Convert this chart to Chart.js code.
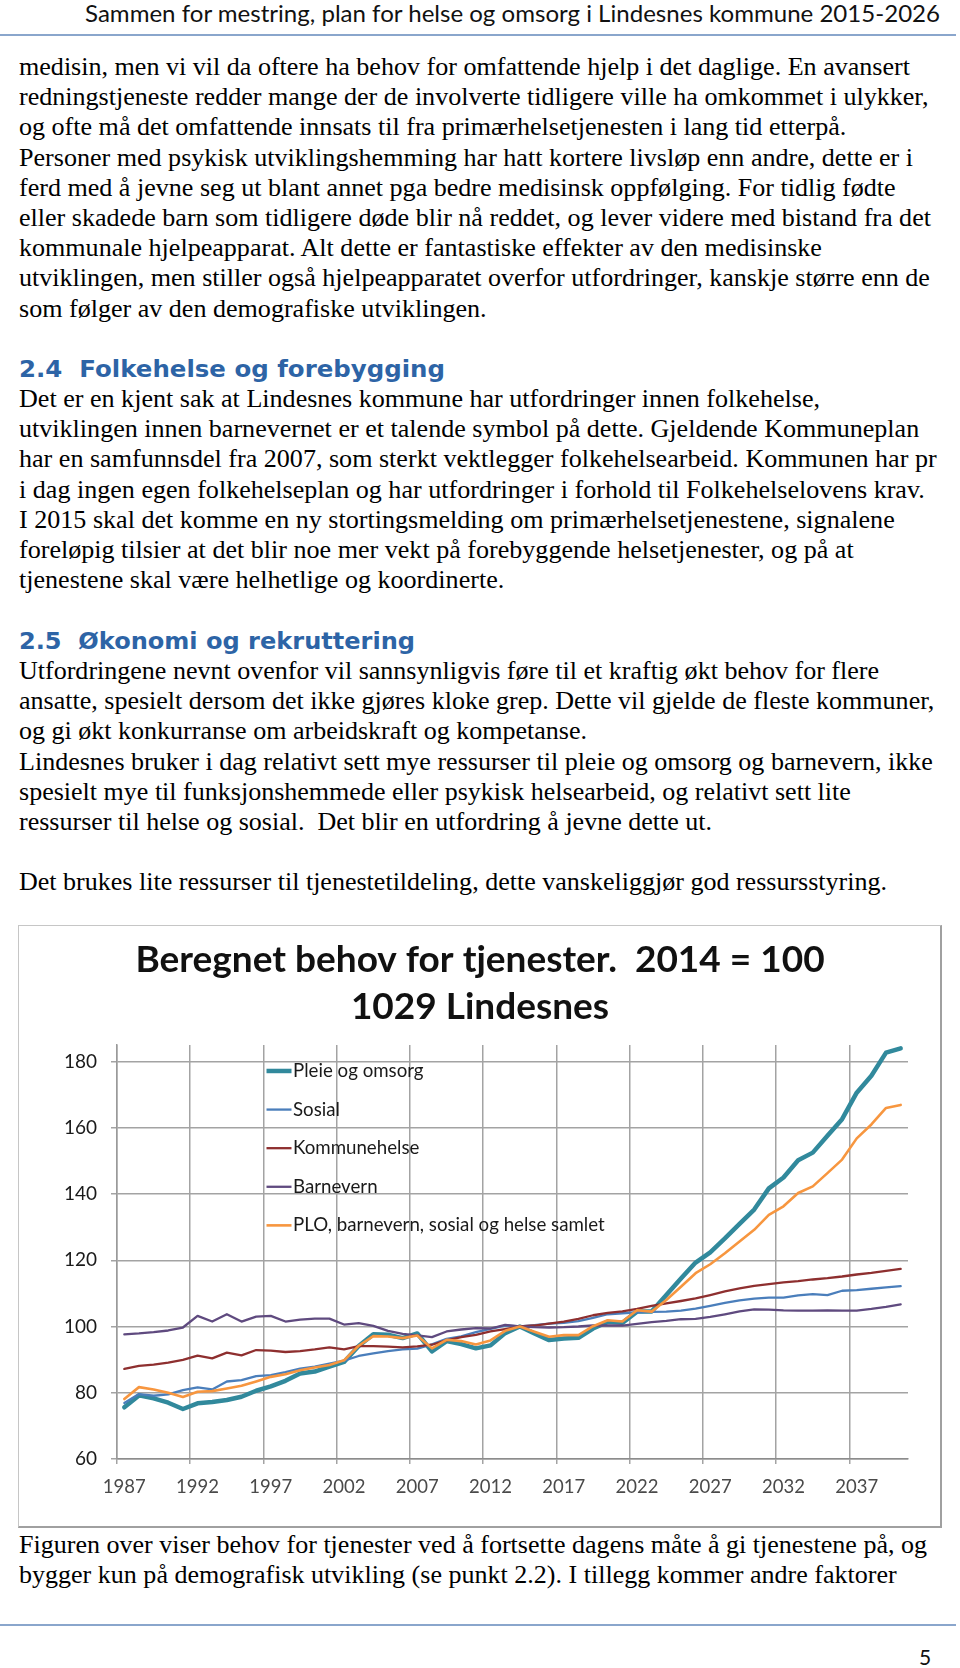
<!DOCTYPE html>
<html><head><meta charset="utf-8">
<script src="https://cdn.jsdelivr.net/npm/chart.js@4.4.1/dist/chart.umd.min.js"></script>
<style>
html,body{margin:0;padding:0;background:#fff;}
body{width:960px;height:1668px;position:relative;overflow:hidden;}
.abs{position:absolute;white-space:nowrap;transform-origin:0 0;}
.hdr{font-family:Lato;font-size:23px;line-height:26px;color:#111;left:85px;top:0px;}
.rule{position:absolute;left:0;width:956px;height:2px;background:#8aa6cc;}
.txt{font-family:'Liberation Serif';font-size:26px;line-height:30.2px;color:#000;left:19px;}
.h2{font-family:'DejaVu Sans';font-weight:bold;font-size:23px;line-height:30px;color:#2d64a6;left:19px;white-space:pre;}
#box{position:absolute;left:18px;top:925px;width:924px;height:603px;box-sizing:border-box;border:1px solid #c6c6c6;border-right:2px solid #a0a0a0;border-bottom:2px solid #a0a0a0;}
#wrap{position:absolute;left:19px;top:926px;width:922px;height:601px;}
.pg{font-family:Lato;font-size:21px;left:919px;top:1644px;color:#111;}
</style>
</head><body>
<div class="abs hdr" data-w="856">Sammen for mestring, plan for helse og omsorg i Lindesnes kommune 2015-2026</div>
<div class="rule" style="top:34px"></div>

<div class="abs txt" style="top:52px" data-w="891" data-t="medisin, men vi vil da oftere ha behov for omfattende hjelp i det daglige. En avansert">medisin, men vi vil da oftere ha behov for omfattende hjelp i det daglige. En avansert<br>redningstjeneste redder mange der de involverte tidligere ville ha omkommet i ulykker,<br>og ofte må det omfattende innsats til fra primærhelsetjenesten i lang tid etterpå.<br>Personer med psykisk utviklingshemming har hatt kortere livsløp enn andre, dette er i<br>ferd med å jevne seg ut blant annet pga bedre medisinsk oppfølging. For tidlig fødte<br>eller skadede barn som tidligere døde blir nå reddet, og lever videre med bistand fra det<br>kommunale hjelpeapparat. Alt dette er fantastiske effekter av den medisinske<br>utviklingen, men stiller også hjelpeapparatet overfor utfordringer, kanskje større enn de<br>som følger av den demografiske utviklingen.</div>

<div class="abs h2" style="top:354px" data-w="426">2.4  Folkehelse og forebygging</div>

<div class="abs txt" style="top:384px" data-w="801" data-t="Det er en kjent sak at Lindesnes kommune har utfordringer innen folkehelse,">Det er en kjent sak at Lindesnes kommune har utfordringer innen folkehelse,<br>utviklingen innen barnevernet er et talende symbol på dette. Gjeldende Kommuneplan<br>har en samfunnsdel fra 2007, som sterkt vektlegger folkehelsearbeid. Kommunen har pr<br>i dag ingen egen folkehelseplan og har utfordringer i forhold til Folkehelselovens krav.<br>I 2015 skal det komme en ny stortingsmelding om primærhelsetjenestene, signalene<br>foreløpig tilsier at det blir noe mer vekt på forebyggende helsetjenester, og på at<br>tjenestene skal være helhetlige og koordinerte.</div>

<div class="abs h2" style="top:626px" data-w="396">2.5  Økonomi og rekruttering</div>

<div class="abs txt" style="top:656px" data-w="860" data-t="Utfordringene nevnt ovenfor vil sannsynligvis føre til et kraftig økt behov for flere">Utfordringene nevnt ovenfor vil sannsynligvis føre til et kraftig økt behov for flere<br>ansatte, spesielt dersom det ikke gjøres kloke grep. Dette vil gjelde de fleste kommuner,<br>og gi økt konkurranse om arbeidskraft og kompetanse.<br>Lindesnes bruker i dag relativt sett mye ressurser til pleie og omsorg og barnevern, ikke<br>spesielt mye til funksjonshemmede eller psykisk helsearbeid, og relativt sett lite<br>ressurser til helse og sosial.&nbsp; Det blir en utfordring å jevne dette ut.<br><br>Det brukes lite ressurser til tjenestetildeling, dette vanskeliggjør god ressursstyring.</div>

<div id="box"></div>
<div id="wrap"><canvas id="c"></canvas></div>

<div class="abs txt" style="top:1530px" data-w="908" data-t="Figuren over viser behov for tjenester ved å fortsette dagens måte å gi tjenestene på, og">Figuren over viser behov for tjenester ved å fortsette dagens måte å gi tjenestene på, og<br>bygger kun på demografisk utvikling (se punkt 2.2). I tillegg kommer andre faktorer</div>

<div class="rule" style="top:1624px"></div>
<div class="abs pg">5</div>

<script>
// ---- data ----
const years = [1987,1988,1989,1990,1991,1992,1993,1994,1995,1996,1997,1998,1999,2000,2001,2002,2003,2004,2005,2006,2007,2008,2009,2010,2011,2012,2013,2014,2015,2016,2017,2018,2019,2020,2021,2022,2023,2024,2025,2026,2027,2028,2029,2030,2031,2032,2033,2034,2035,2036,2037,2038,2039,2040];
const seriesNames = ['Pleie og omsorg','Sosial','Kommunehelse','Barnevern','PLO, barnevern, sosial og helse samlet'];
const pleieOgOmsorg = [75.6,79.2,78.3,77.0,75.1,76.8,77.2,77.8,78.8,80.6,81.9,83.6,85.8,86.4,87.9,89.3,94.1,97.7,97.5,96.5,97.9,92.5,95.6,94.7,93.4,94.3,98.0,100,97.9,95.9,96.4,96.6,99.4,101.4,101.1,104.5,104.5,109.5,114.5,119.3,122.4,126.6,131.0,135.3,141.7,145.0,150.2,152.5,157.6,162.6,170.6,175.7,182.7,184.0];
const sosial = [76.9,79.6,79.1,79.5,80.8,81.6,81.0,83.4,83.8,85.0,85.3,86.2,87.3,87.9,88.8,89.7,91.1,91.9,92.6,93.1,93.3,94.6,96.3,97.0,98.3,99.3,100.3,100,100.4,100.9,101.1,101.6,102.6,103.7,104.0,104.3,104.4,104.5,104.8,105.4,106.2,107.1,107.9,108.4,108.7,108.7,109.4,109.8,109.5,110.8,111.0,111.4,111.8,112.2];
const kommunehelse = [87.2,88.1,88.5,89.1,89.9,91.2,90.4,92.1,91.3,92.9,92.7,92.3,92.6,93.1,93.7,93.1,94.1,94.1,93.9,93.7,94.0,94.5,95.8,96.8,97.5,98.5,99.2,100,100.3,100.9,101.5,102.3,103.4,104.1,104.6,105.3,106.2,107.0,107.7,108.5,109.5,110.6,111.5,112.3,112.8,113.3,113.7,114.2,114.6,115.1,115.7,116.2,116.8,117.4];
const barnevern = [97.6,97.9,98.3,98.8,99.7,103.2,101.5,103.7,101.5,103.0,103.2,101.5,102.1,102.4,102.4,100.6,101.0,100.2,98.7,97.8,97.3,96.8,98.5,99.1,99.5,99.4,100.5,100,99.8,99.7,99.8,100.0,100.3,100.3,100.3,100.8,101.3,101.7,102.2,102.3,102.9,103.7,104.6,105.2,105.1,104.9,104.8,104.8,104.9,104.8,104.8,105.3,105.9,106.7];
const samlet = [78.1,81.7,81.0,80.0,78.7,80.3,80.5,81.3,82.1,83.4,84.8,85.6,86.8,87.6,88.4,89.8,94.2,97.1,97.0,96.5,97.3,93.4,96.0,95.6,94.6,95.8,98.7,100,98.4,96.9,97.4,97.4,100.1,101.9,101.5,104.9,104.5,108.0,112.0,116.1,118.8,122.1,125.7,129.2,133.7,136.3,140.3,142.3,146.3,150.4,156.8,161.0,166.0,166.9];
const yTicks = [60,80,100,120,140,160,180];
const titleLines = ['Beregnet behov for tjenester.  2014 = 100','1029 Lindesnes'];

// ---- text fitting (page text only) ----
document.querySelectorAll('[data-w]').forEach(el => {
  const cs = getComputedStyle(el);
  const c = document.createElement('canvas').getContext('2d');
  c.font = cs.fontWeight + ' ' + cs.fontSize + ' ' + cs.fontFamily;
  const nat = c.measureText(el.dataset.t || el.textContent).width;
  el.style.transform = 'scaleX(' + (parseFloat(el.dataset.w) / nat) + ')';
});

Chart.defaults.font.family = 'Lato';
const colors = ['#31899c','#4a7ebb','#8e2f2f','#5f4a7f','#f7963f'];
const widths = [4.5,2.3,2.3,2.3,2.6];
const values = [pleieOgOmsorg, sosial, kommunehelse, barnevern, samlet];

const legendPlugin = {
  id: 'insideLegend',
  afterDraw(chart) {
    const {ctx, chartArea} = chart;
    ctx.save();
    ctx.font = '18.7px Lato';
    ctx.textBaseline = 'middle';
    ctx.fillStyle = '#1a1a1a';
    chart.data.datasets.forEach((ds, i) => {
      const y = chartArea.top + 26 + i * 38.6;
      const x0 = chartArea.left + 149.5;
      ctx.strokeStyle = ds.borderColor;
      ctx.lineWidth = ds.borderWidth;
      ctx.beginPath(); ctx.moveTo(x0, y); ctx.lineTo(x0 + 25, y); ctx.stroke();
      ctx.fillText(ds.label, x0 + 26.5, y);
    });
    ctx.restore();
  }
};

new Chart(document.getElementById('c'), {
  type: 'line',
  data: {
    labels: years,
    datasets: seriesNames.map((name, i) => ({
      label: name,
      data: values[i],
      borderColor: colors[i],
      backgroundColor: colors[i],
      borderWidth: widths[i],
      pointRadius: 0,
      tension: 0,
      borderJoinStyle: 'round',
      borderCapStyle: 'round',
      order: 5 - i,
      clip: false
    }))
  },
  options: {
    responsive: true,
    maintainAspectRatio: false,
    animation: false,
    layout: { padding: { left: 33, right: 33, top: 0, bottom: 0 } },
    plugins: {
      legend: { display: false },
      tooltip: { enabled: false },
      title: {
        display: true,
        text: titleLines,
        color: '#111',
        font: { size: 37, weight: 'bold', lineHeight: 1.27 },
        padding: { top: 11, bottom: 14 }
      }
    },
    scales: {
      x: {
        offset: true,
        grid: {
          offset: true,
          color: c => (c.index !== undefined && c.index % 5 === 0) ? '#a3a3a3' : 'rgba(0,0,0,0)',
          tickColor: c => (c.index !== undefined && c.index % 5 === 0) ? '#a3a3a3' : 'rgba(0,0,0,0)',
          lineWidth: 1.5,
          tickLength: 5
        },
        border: { color: '#8c8c8c', width: 1.5 },
        ticks: {
          autoSkip: false, maxRotation: 0, minRotation: 0,
          color: '#4a4a4a', font: { size: 18.5 }, padding: 12,
          callback: (v, i) => (i % 5 === 0 ? String(years[i]) : '')
        },
        afterFit: s => { s.height = 68; }
      },
      y: {
        min: 60, max: 185,
        afterBuildTicks: s => { s.ticks = yTicks.map(v => ({ value: v })); },
        grid: { color: '#a3a3a3', lineWidth: 1.5, tickLength: 6, tickColor: '#a3a3a3' },
        border: { color: '#9a9a9a', width: 1.5 },
        ticks: { color: '#1a1a1a', font: { size: 19 }, padding: 14 },
        afterFit: s => { s.width = 65; }
      }
    }
  },
  plugins: [legendPlugin]
});
</script>
</body></html>
